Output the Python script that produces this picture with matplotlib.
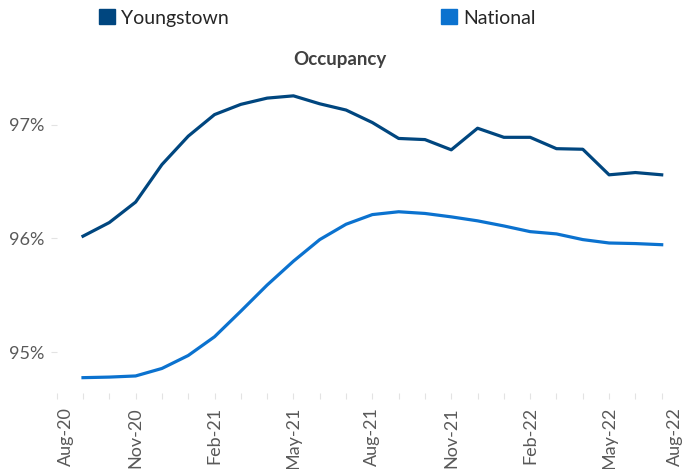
import matplotlib
matplotlib.use('Agg')
import matplotlib.pyplot as plt
import matplotlib.transforms as mtransforms
from matplotlib.patches import Patch

plt.rcParams['font.family'] = ['Lato', 'DejaVu Sans']

# months since Aug-20 (Sep-20 .. Jul-22)
months = list(range(1, 24))
youngstown = [96.02, 96.14, 96.32, 96.65, 96.90, 97.09, 97.18, 97.235, 97.255, 97.185,
              97.13, 97.02, 96.88, 96.87, 96.78, 96.97, 96.89, 96.89, 96.79, 96.785,
              96.56, 96.58, 96.56]
national = [94.775, 94.78, 94.79, 94.856, 94.97, 95.135, 95.36, 95.59, 95.80, 95.99,
            96.125, 96.21, 96.235, 96.22, 96.19, 96.155, 96.11, 96.06, 96.04, 95.99,
            95.96, 95.955, 95.945]
tick_pos = [0, 3, 6, 9, 12, 15, 18, 21, 24]
tick_labels = ['Aug-20', 'Nov-20', 'Feb-21', 'May-21', 'Aug-21', 'Nov-21',
               'Feb-22', 'May-22', 'Aug-22']

c_young = '#00467F'
c_nat = '#0B72CF'

fig = plt.figure(figsize=(6.83, 4.69), dpi=100)
W, H = 683, 469
x0, x1 = 56.7, 688.0
y_top, y_bot = 68.0, 393.0
ax = fig.add_axes([x0 / W, (H - y_bot) / H, (x1 - x0) / W, (y_bot - y_top) / H])

ax.plot(months, youngstown, color=c_young, lw=2.3, solid_joinstyle='round')
ax.plot(months, national, color=c_nat, lw=2.3, solid_joinstyle='round')

ax.set_xlim(0, 24)
ax.set_ylim(94.64, 97.5)
ax.set_yticks([95, 96, 97])
ax.set_yticklabels(['95%', '96%', '97%'])
ax.set_xticks(tick_pos)
ax.set_xticklabels(tick_labels, rotation=90)
ax.set_xticks(range(0, 25), minor=True)

for s in ax.spines.values():
    s.set_visible(False)
ax.tick_params(axis='both', which='both', colors='#E3E3E3', labelcolor='#595959',
               labelsize=13, length=4, width=0.8)
ax.tick_params(axis='x', which='major', pad=6)
ax.tick_params(axis='y', pad=5)

# end labels nudged inward, as in the source
labs = ax.get_xticklabels()
labs[0].set_transform(labs[0].get_transform() + mtransforms.ScaledTranslation(9 / 100, 0, fig.dpi_scale_trans))
labs[-1].set_transform(labs[-1].get_transform() + mtransforms.ScaledTranslation(-13 / 100, 0, fig.dpi_scale_trans))

fig.text(340 / W, 1 - 59 / H, 'Occupancy', ha='center', va='center',
         fontsize=13.5, fontweight='bold', color='#404040')

handles = [Patch(color=c_young), Patch(color=c_nat)]
fig.legend(handles, ['Youngstown', 'National'], ncol=2, frameon=False,
           loc='center left', bbox_to_anchor=(99 / W, 1 - 18 / H),
           fontsize=14, labelcolor='#262626', handlelength=0.8, handleheight=0.8,
           handletextpad=0.35, columnspacing=10.9, borderaxespad=0, borderpad=0)

fig.savefig('out.png', dpi=100)
